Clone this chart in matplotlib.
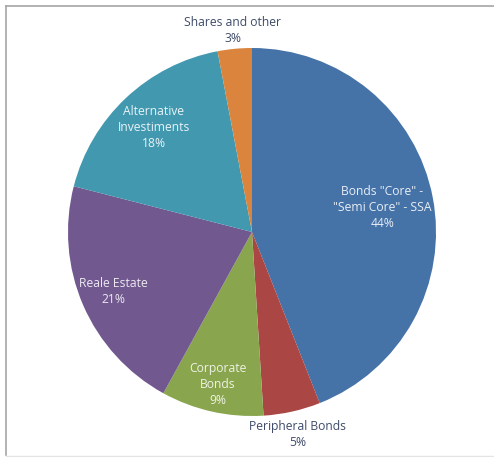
import numpy as np
import matplotlib
matplotlib.use("Agg")
import matplotlib.pyplot as plt
from matplotlib.lines import Line2D

# Portfolio allocation
categories = ['Bonds "Core" -\n"Semi Core" - SSA', "Peripheral Bonds", "Corporate\nBonds",
              "Reale Estate", "Alternative\nInvestiments", "Shares and other"]
shares_pct = [44, 5, 9, 21, 18, 3]
colors = ["#4572A7", "#AA4643", "#89A54E", "#71588F", "#4198AF", "#DB843D"]
label_colors = ["#E8EEF6", "#3E4B6A", "#EEF3E4", "#ECE8F2", "#E8F3F7", "#3E4B6A"]
label_dist = [0.72, 1.13, 0.85, 0.82, 0.78, 1.10]

plt.rcParams["font.family"] = ["Open Sans", "DejaVu Sans"]

W, H = 494, 457
fig = plt.figure(figsize=(W / 100, H / 100), dpi=100)
ax = fig.add_axes([0, 0, 1, 1])

wedges, _ = ax.pie(shares_pct, colors=colors, startangle=90, counterclock=False,
                   radius=1.0, wedgeprops=dict(edgecolor="none", linewidth=0))

# Place the pie centre and radius within the canvas (in pixels)
cx, cy, R = 252, 232, 184
ax.set_aspect("auto")
ax.set_xlim(-cx / R, (W - cx) / R)
ax.set_ylim(-(H - cy) / R, cy / R)
ax.axis("off")

for w, name, pct, tc, d in zip(wedges, categories, shares_pct, label_colors, label_dist):
    mid = np.deg2rad((w.theta1 + w.theta2) / 2)
    ax.text(d * np.cos(mid), d * np.sin(mid), f"{name}\n{pct}%",
            ha="center", va="center", fontsize=8.7, color=tc, linespacing=1.3)

# Chart frame
frame = dict(color="#A6A6A6", linewidth=1.2, transform=fig.transFigure)
fig.add_artist(Line2D([5.5 / W, 1.0], [1 - 5.5 / H, 1 - 5.5 / H], **frame))
fig.add_artist(Line2D([5.5 / W, 5.5 / W], [1 - 5.5 / H, 1 - 455 / H], **frame))
fig.add_artist(Line2D([5.5 / W, 1.0], [1 - 455.5 / H, 1 - 455.5 / H],
                      color="#E4E4E4", linewidth=1.0, transform=fig.transFigure))

fig.savefig("out.png", dpi=100)
